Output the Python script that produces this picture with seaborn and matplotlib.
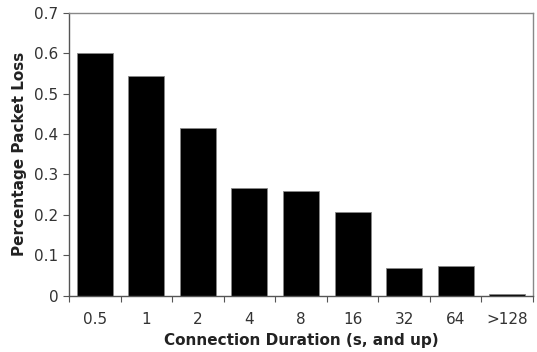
import matplotlib
matplotlib.use("Agg")
import matplotlib.pyplot as plt
import seaborn as sns
import pandas as pd
import numpy as np

categories = ["0.5", "1", "2", "4", "8", "16", "32", "64", ">128"]
loss = [0.600, 0.545, 0.414, 0.267, 0.260, 0.206, 0.067, 0.074, 0.003]

sns.set_theme(style="white")
plt.rcParams['font.family'] = ['DejaVu Sans']

df = pd.DataFrame({"duration": categories, "loss": loss})

fig = plt.figure(figsize=(5.37, 3.52), dpi=100)
ax = fig.add_axes([69/537, 1 - 295.5/352, (533-69)/537, (295.5-13)/352])
sns.barplot(data=df, x="duration", y="loss", color="black", width=0.7,
            edgecolor="#888888", linewidth=0.6, saturation=1, ax=ax)

ax.set_ylim(0, 0.7)
ax.set_xlim(-0.5, len(categories) - 0.5)
ax.set_yticks(np.arange(0, 0.71, 0.1))
ax.set_yticklabels(["0"] + [f"{v:.1f}" for v in np.arange(0.1, 0.71, 0.1)])
ax.set_xticks(np.arange(-0.5, len(categories), 1.0), minor=True)
ax.tick_params(axis="x", which="major", length=0, labelsize=11, colors="#333333", pad=12)
ax.tick_params(axis="x", which="minor", length=4, width=0.8, color="#555555", direction="out", bottom=True)
ax.tick_params(axis="y", which="major", length=4.5, width=0.8, color="#555555", direction="out",
               left=True, labelsize=11, labelcolor="#333333", pad=3)
for s in ax.spines.values():
    s.set_color("#888888")
    s.set_linewidth(1.0)
ax.spines["bottom"].set_color("#555555")
ax.spines["left"].set_color("#555555")

ax.set_xlabel("Connection Duration (s, and up)", fontsize=11, fontweight="bold", color="#222222", labelpad=4)
ax.set_ylabel("Percentage Packet Loss", fontsize=11, fontweight="bold", color="#222222", labelpad=5)

fig.savefig("out.png", dpi=100)
